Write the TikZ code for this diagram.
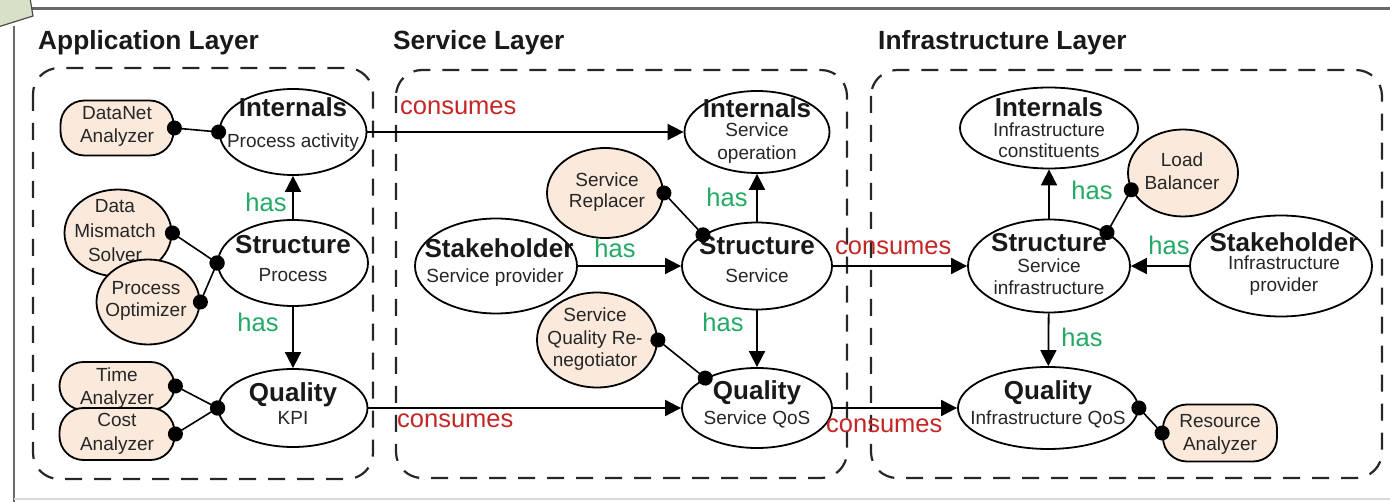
\documentclass[tikz,border=0pt]{standalone}
\usepackage{fontspec}
\setmainfont{Liberation Sans}
\usetikzlibrary{arrows.meta,shapes.geometric}

\definecolor{tanfill}{RGB}{251,233,220}
\definecolor{hasgreen}{RGB}{34,170,100}
\definecolor{consred}{RGB}{196,38,38}
\definecolor{framegray}{RGB}{105,105,105}
\definecolor{tabgreen}{RGB}{216,224,200}

\begin{document}
\begin{tikzpicture}[x=1pt,y=-1pt,
  obj/.style={ellipse, draw=black, line width=1.8pt, fill=white, inner sep=0pt},
  tool/.style={ellipse, draw=black, line width=1.8pt, fill=tanfill, inner sep=0pt},
  toolbox/.style={rectangle, rounded corners=24pt, draw=black, line width=1.8pt, fill=tanfill, inner sep=0pt},
  hd/.style={anchor=base, inner sep=0pt, font=\fontsize{26}{28}\selectfont\bfseries, text=black!90},
  sb/.style={anchor=base, inner sep=0pt, font=\fontsize{19}{22}\selectfont, text=black!85},
  layer/.style={anchor=base west, inner sep=0pt, font=\fontsize{26.3}{28}\selectfont\bfseries, text=black!90},
  haslbl/.style={anchor=base, inner sep=0pt, font=\fontsize{25.5}{28}\selectfont, text=hasgreen},
  conslbl/.style={anchor=base west, inner sep=0pt, font=\fontsize{25.5}{28}\selectfont, text=consred},
  layerbox/.style={draw=black!85, line width=2.2pt, dash pattern=on 17pt off 12pt, rounded corners=26pt},
  rel/.style={line width=1.8pt, -{Triangle[length=16pt,width=16pt]}},
  uses/.style={line width=1.6pt, {Circle[length=15pt]}-{Circle[length=15pt]}, shorten <=-7.5pt, shorten >=-7.5pt}
]
\useasboundingbox (0,0) rectangle (1390,502);

% outer frame and tab
\draw[framegray, line width=3pt] (30,9) -- (1392,9);
\draw[framegray, line width=2.5pt] (14,26) -- (14,504);
\draw[black!15, line width=1.5pt] (14,499) -- (1392,499);
\draw[black!70, line width=1.2pt, fill=tabgreen] (-2,-2) -- (30,-2) -- (33,16) -- (-2,27) -- cycle;

% layer titles
\node[layer] (tapp) at (38,50) {Application Layer};
\node[layer] (tsvc) at (393,50) {Service Layer};
\node[layer] (tinf) at (878,50) {Infrastructure Layer};

% layer boxes
\draw[layerbox] (33,68) rectangle (373,479);
\draw[layerbox] (396,70) rectangle (847,478);
\draw[layerbox] (871,70) rectangle (1382,478);

% ---------------- application layer
\node[obj, minimum width=147pt, minimum height=86pt] (pi) at (293,132) {};
\node[hd] (pi-h) at (293,117) {Internals};
\node[sb] (pi-s) at (293,148) {Process activity};

\node[obj, minimum width=150pt, minimum height=86pt] (st) at (293,263) {};
\node[hd] (st-h) at (293,254) {Structure};
\node[sb] (st-s) at (293,282) {Process};

\node[obj, minimum width=149pt, minimum height=78pt] (q) at (293,408) {};
\node[hd] (q-h) at (293,402) {Quality};
\node[sb] (q-s) at (293,425) {KPI};

\node[toolbox, minimum width=113pt, minimum height=55pt] (dn) at (117,128) {};
\node[sb] (dn-1) at (117,120) {DataNet};
\node[sb] (dn-2) at (117,143) {Analyzer};

\node[tool, minimum width=107pt, minimum height=87pt] (sol) at (118,233) {};
\node[sb] (sol-1) at (115,213) {Data};
\node[sb] (sol-2) at (115,238) {Mismatch};
\node[sb] (sol-3) at (115,262) {Solver};

\node[tool, minimum width=103pt, minimum height=85pt] (opt) at (148,302) {};
\node[sb] (opt-1) at (146,295) {Process};
\node[sb] (opt-2) at (146,317) {Optimizer};

\node[toolbox, minimum width=115pt, minimum height=48pt] (ta) at (117,386) {};
\node[sb] (ta-1) at (117,382) {Time};
\node[sb] (ta-2) at (117,405) {Analyzer};

\node[toolbox, minimum width=115pt, minimum height=52pt] (ca) at (117,434) {};
\node[sb] (ca-1) at (117,427) {Cost};
\node[sb] (ca-2) at (117,450) {Analyzer};

% ---------------- service layer
\node[obj, minimum width=145pt, minimum height=82pt] (si) at (757,132) {};
\node[hd] (si-h) at (757,118) {Internals};
\node[sb] (si-1) at (757,137) {Service};
\node[sb] (si-2) at (757,160) {operation};

\node[obj, minimum width=150pt, minimum height=87pt] (ss) at (757,266) {};
\node[hd] (ss-h) at (757,255) {Structure};
\node[sb] (ss-s) at (757,283) {Service};

\node[obj, minimum width=150pt, minimum height=80pt] (qs) at (757,408) {};
\node[hd] (qs-h) at (757,400) {Quality};
\node[sb] (qs-s) at (757,425) {Service QoS};

\node[obj, minimum width=162pt, minimum height=95pt] (sh) at (496,266) {};
\node[hd] (sh-h) at (499,258) {Stakeholder};
\node[sb] (sh-s) at (495,283) {Service provider};

\node[tool, minimum width=116pt, minimum height=90pt] (rep) at (605,193) {};
\node[sb] (rep-1) at (607,187) {Service};
\node[sb] (rep-2) at (607,208) {Replacer};

\node[tool, minimum width=120pt, minimum height=95pt] (sqr) at (597,340) {};
\node[sb] (sqr-1) at (595,322) {Service};
\node[sb] (sqr-2) at (595,345) {Quality Re-};
\node[sb] (sqr-3) at (595,367) {negotiator};

% ---------------- infrastructure layer
\node[obj, minimum width=178pt, minimum height=81pt] (ii) at (1049,128) {};
\node[hd] (ii-h) at (1049,117) {Internals};
\node[sb] (ii-1) at (1049,137) {Infrastructure};
\node[sb] (ii-2) at (1049,158) {constituents};

\node[obj, minimum width=162pt, minimum height=93pt] (sti) at (1049,266) {};
\node[hd] (sti-h) at (1049,252) {Structure};
\node[sb] (sti-1) at (1049,273) {Service};
\node[sb] (sti-2) at (1049,295) {infrastructure};

\node[obj, minimum width=180pt, minimum height=82pt] (qi) at (1048,408) {};
\node[hd] (qi-h) at (1048,400) {Quality};
\node[sb] (qi-s) at (1048,425) {Infrastructure QoS};

\node[obj, minimum width=182pt, minimum height=101pt] (shi) at (1281,266) {};
\node[hd] (shi-h) at (1284,252) {Stakeholder};
\node[sb] (shi-1) at (1284,270) {Infrastructure};
\node[sb] (shi-2) at (1284,292) {provider};

\node[tool, minimum width=110pt, minimum height=87pt] (lb) at (1183,173) {};
\node[sb] (lb-1) at (1182,167) {Load};
\node[sb] (lb-2) at (1182,190) {Balancer};

\node[toolbox, minimum width=114pt, minimum height=57pt] (ra) at (1220,433) {};
\node[sb] (ra-1) at (1220,428) {Resource};
\node[sb] (ra-2) at (1220,450) {Analyzer};

% ---------------- has relations
\draw[rel] (st) -- (pi);
\draw[rel] (st) -- (q);
\draw[rel] (ss) -- (si);
\draw[rel] (ss) -- (qs);
\draw[rel] (sh) -- (ss);
\draw[rel] (sti) -- (ii);
\draw[rel] (sti) -- (qi);
\draw[rel] (shi) -- (sti);

% ---------------- consumes relations
\draw[rel] (pi) -- (si);
\draw[rel] (q) -- (qs);
\draw[rel] (ss) -- (sti);
\draw[rel] (qs) -- (qi);

% ---------------- tool attachments
\draw[uses] (dn.east) -- (pi.west);
\draw[uses] (sol.east) -- (st.west);
\draw[uses] (opt.east) -- (st.west);
\draw[uses] (ta.east) -- (q.west);
\draw[uses] (ca.east) -- (q.west);
\draw[uses] (rep.east) -- (ss.150);
\draw[uses] (sqr.east) -- (qs.150);
\draw[uses] (lb.198) -- (sti.30);
\draw[uses] (qi.east) -- (ra.west);

% ---------------- relation labels
\node[haslbl] (h1) at (266,212) {has};
\node[haslbl] (h2) at (258,332) {has};
\node[haslbl] (h3) at (615,258) {has};
\node[haslbl] (h4) at (727,207) {has};
\node[haslbl] (h5) at (723,332) {has};
\node[haslbl] (h6) at (1092,200) {has};
\node[haslbl] (h7) at (1082,347) {has};
\node[haslbl] (h8) at (1169,255) {has};

\node[conslbl] (c1) at (400,115) {consumes};
\node[conslbl] (c2) at (397,428) {consumes};
\node[conslbl] (c3) at (835,255) {consumes};
\node[conslbl] (c4) at (826,432) {consumes};
\end{tikzpicture}
\end{document}
